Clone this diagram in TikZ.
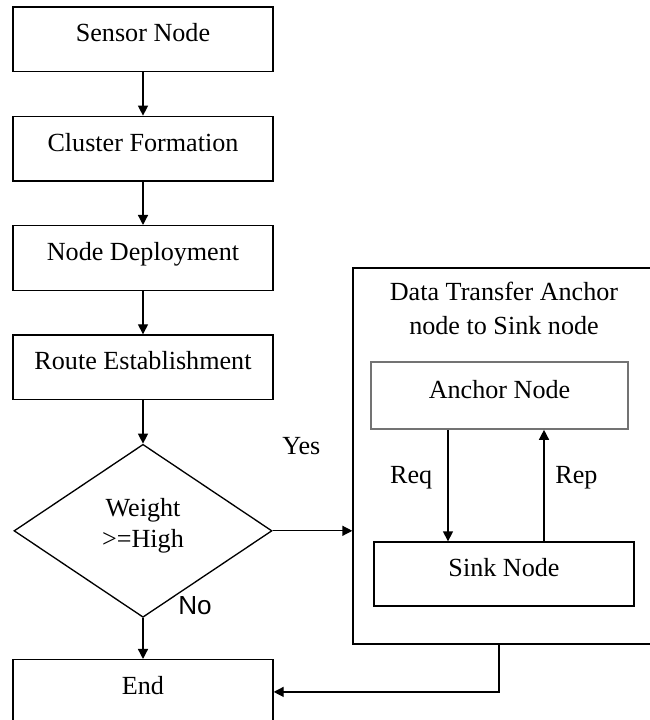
\documentclass[tikz,border=0pt]{standalone}
\usepackage{fontspec}
\setmainfont{Liberation Serif}
\newfontfamily\sansno{Liberation Sans}
\usetikzlibrary{arrows.meta,positioning,shapes.geometric}

\begin{document}
\begin{tikzpicture}[x=0.75pt, y=-0.75pt, node distance=32.6pt,
  every node/.style={font=\fontsize{19.6}{25.5}\selectfont},
  box/.style={draw, line width=1pt, minimum width=195pt, minimum height=48.4pt, inner sep=0pt, text height=13.7pt, text depth=9.8pt},
  dec/.style={draw, diamond, aspect=1.5, line width=1pt, minimum width=193.5pt, minimum height=129.75pt, inner sep=0pt, align=center, font=\fontsize{19.6}{23}\selectfont, text depth=11.8pt},
  arr/.style={-{Triangle[length=7.5pt, width=7.5pt]}, line width=1pt}]
\useasboundingbox (0,0) rectangle (649,720);
\node[box] (sensor) at (143,39.25) {Sensor Node};
\node[box, below=of sensor] (clus) {Cluster Formation};
\node[box, below=of clus] (deploy) {Node Deployment};
\node[box, below=of deploy] (route) {Route Establishment};
\node[dec, below=of route] (weight) {Weight\\>=High};
\node[box, below=30.75pt of weight] (end) {End};
% data transfer block
\node[draw, line width=1pt, minimum width=226.5pt, minimum height=282pt, inner sep=0pt] (xfer) at (504,456) {};
\node[align=center, inner sep=0pt, below=11pt of xfer.north] (xtitle) {Data Transfer Anchor\\node to Sink node};
\node[box, draw=black!55, line width=1.2pt, minimum width=192.75pt, minimum height=50.25pt] (anchor) at (499.5,395.5) {Anchor Node};
\node[box, minimum height=48pt] (sink) at (504,574) {Sink Node};
\coordinate (reqx) at (448,0);
\coordinate (repx) at (544,0);
\draw[arr] (sensor) -- (clus); \draw[arr] (clus) -- (deploy); \draw[arr] (deploy) -- (route);
\draw[arr] (route) -- (weight);
\draw[arr] (weight) -- node[at start, above right=2pt and 26pt, inner sep=0pt, font=\fontsize{19.6}{23}\selectfont\sansno] {No} (end);
\draw[arr] (weight.east) -- node[pos=0.36, above=53pt] {Yes} (weight.east -| xfer.west);
\draw[arr] (anchor.south -| reqx) -- node[pos=0.43, left=8pt] {Req} (sink.north -| reqx);
\draw[arr] (sink.north -| repx) -- node[pos=0.57, right=4.75pt] {Rep} (anchor.south -| repx);
\draw[arr] ([xshift=-3.75pt]xfer.south) |- (end.east);
\end{tikzpicture}
\end{document}
